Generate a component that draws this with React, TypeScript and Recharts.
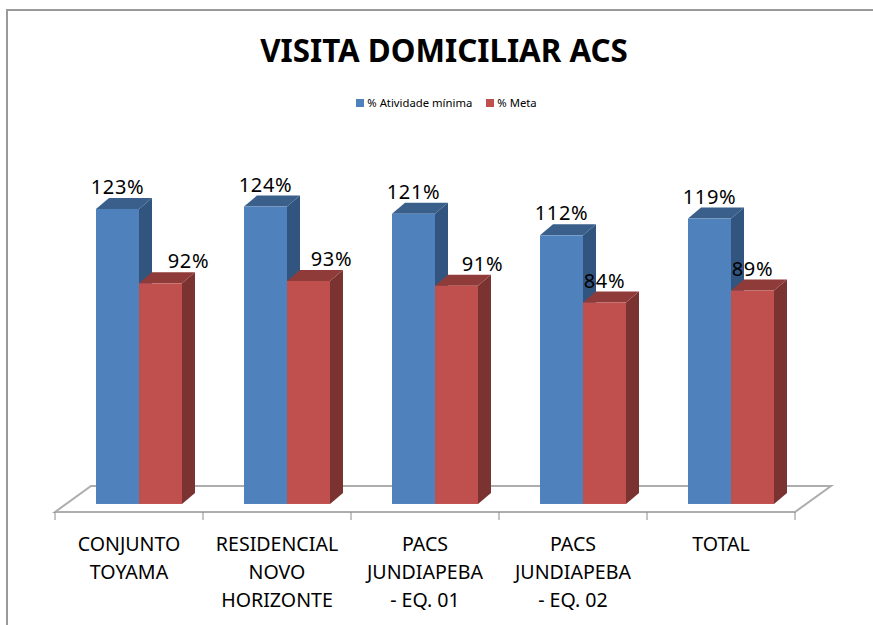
import { Bar, BarChart, Customized, LabelList, Legend, XAxis, YAxis, usePlotArea } from "recharts"

// labels as they wrap under the axis
const categoryLines = [
  ["CONJUNTO", "TOYAMA"],
  ["RESIDENCIAL", "NOVO", "HORIZONTE"],
  ["PACS", "JUNDIAPEBA", "- EQ. 01"],
  ["PACS", "JUNDIAPEBA", "- EQ. 02"],
  ["TOTAL"],
]
const categories = categoryLines.map((lines) => lines.join(" "))
const atividadeMinima = [123, 124, 121, 112, 119]
const meta = [92, 93, 91, 84, 89]

const data = categories.map((name, i) => ({
  name,
  "% Atividade mínima": atividadeMinima[i],
  "% Meta": meta[i],
}))

const FONT = "'Noto Sans', sans-serif"
const BLUE = { front: "#4f81bd", top: "#3a5f8b", side: "#325580" }
const RED = { front: "#c0504d", top: "#8f3b39", side: "#7a3331" }

// 3D look: depth of the bars and of the floor
const DEPTH_X = 13
const DEPTH_Y = 11
const FLOOR_X = 36
const FLOOR_Y = 26
const BAR_SHIFT = 10 // bars sit in the middle of the floor depth, not on its front edge
// the red labels get pushed right when they would hit the blue bar
const metaLabelShift = [28, 23, 26, 0, 0]

function Bar3D(props: any) {
  const { x, y, width, height, colors } = props
  const l = x + BAR_SHIFT
  const r = l + width
  const b = y + height
  return (
    <g>
      <polygon points={`${r},${y} ${r + DEPTH_X},${y - DEPTH_Y} ${r + DEPTH_X},${b - DEPTH_Y} ${r},${b}`} fill={colors.side} />
      <polygon points={`${l},${y} ${l + DEPTH_X},${y - DEPTH_Y} ${r + DEPTH_X},${y - DEPTH_Y} ${r},${y}`} fill={colors.top} />
      <rect x={l} y={y} width={width} height={height} fill={colors.front} />
    </g>
  )
}

function Floor() {
  const plot = usePlotArea()
  if (!plot) return null
  const l = plot.x
  const r = plot.x + plot.width
  const b = plot.y + plot.height
  return (
    <polygon
      points={`${l},${b} ${l + FLOOR_X},${b - FLOOR_Y} ${r + FLOOR_X},${b - FLOOR_Y} ${r},${b}`}
      fill="#ffffff"
      stroke="#adadad"
      strokeWidth={2}
    />
  )
}

function CategoryTick(props: any) {
  const { x, y, index, payload } = props
  const band = 148
  const lines = categoryLines[index] || [payload.value]
  return (
    <g>
      <line x1={x - band / 2} x2={x - band / 2} y1={y - 8} y2={y} stroke="#8c8c8c" />
      {index === categories.length - 1 && <line x1={x + band / 2} x2={x + band / 2} y1={y - 8} y2={y} stroke="#8c8c8c" />}
      {lines.map((line: string, i: number) => (
        <text key={i} x={x} y={y + 31 + i * 28} textAnchor="middle" fontFamily={FONT} fontSize={19.6} fill="#000000">
          {line}
        </text>
      ))}
    </g>
  )
}

function valueLabel(shifts?: number[]) {
  return (props: any) => {
    const { x, y, width, value, index } = props
    return (
      <text
        x={x + BAR_SHIFT + width / 2 + (shifts ? shifts[index] : 0)}
        y={y - 15}
        textAnchor="middle"
        fontFamily={FONT}
        fontSize={20}
        letterSpacing={0.7}
        fill="#000000"
      >
        {value}%
      </text>
    )
  }
}

function LegendRow(props: any) {
  const items = props.payload || []
  return (
    <div style={{ display: "flex", justifyContent: "center", height: 14, lineHeight: "14px", fontFamily: FONT, fontSize: 11.3, color: "#000" }}>
      {items.map((item: any) => (
        <span key={item.value} style={{ display: "flex", alignItems: "center", margin: "0 7px" }}>
          <span style={{ width: 8, height: 8, background: item.color, marginRight: 3 }} />
          {item.value}
        </span>
      ))}
    </div>
  )
}

export default function App() {
  return (
    <div style={{ position: "absolute", left: 0, top: 0, width: 873, height: 625, overflow: "hidden", background: "#fff" }}>
      <div style={{ position: "absolute", left: 6, top: 9, width: 867, height: 2, background: "#9a9a9a" }} />
      <div style={{ position: "absolute", left: 6, top: 9, width: 2, height: 616, background: "#9a9a9a" }} />
      <BarChart
        width={873}
        height={625}
        data={data}
        barGap={0}
        barSize={43}
        margin={{ top: 154.2, right: 78, left: 55, bottom: 0 }}
      >
        <Customized component={Floor} />
        <XAxis dataKey="name" height={113} axisLine={false} tickLine={false} tick={CategoryTick} interval={0} />
        <YAxis hide domain={[-3.35, 140]} />
        <Legend
          verticalAlign="top"
          content={LegendRow}
          wrapperStyle={{ top: 96, left: 0, width: 893 }}
        />
        <text x={444} y={62} textAnchor="middle" fontFamily={FONT} fontSize={31.3} fontWeight={700} fill="#000000">
          VISITA DOMICILIAR ACS
        </text>
        <Bar
          dataKey="% Atividade mínima"
          fill={BLUE.front}
          isAnimationActive={false}
          shape={(p: any) => <Bar3D {...p} colors={BLUE} />}
        >
          <LabelList dataKey="% Atividade mínima" content={valueLabel()} />
        </Bar>
        <Bar
          dataKey="% Meta"
          fill={RED.front}
          isAnimationActive={false}
          shape={(p: any) => <Bar3D {...p} colors={RED} />}
        >
          <LabelList dataKey="% Meta" content={valueLabel(metaLabelShift)} />
        </Bar>
      </BarChart>
    </div>
  )
}
